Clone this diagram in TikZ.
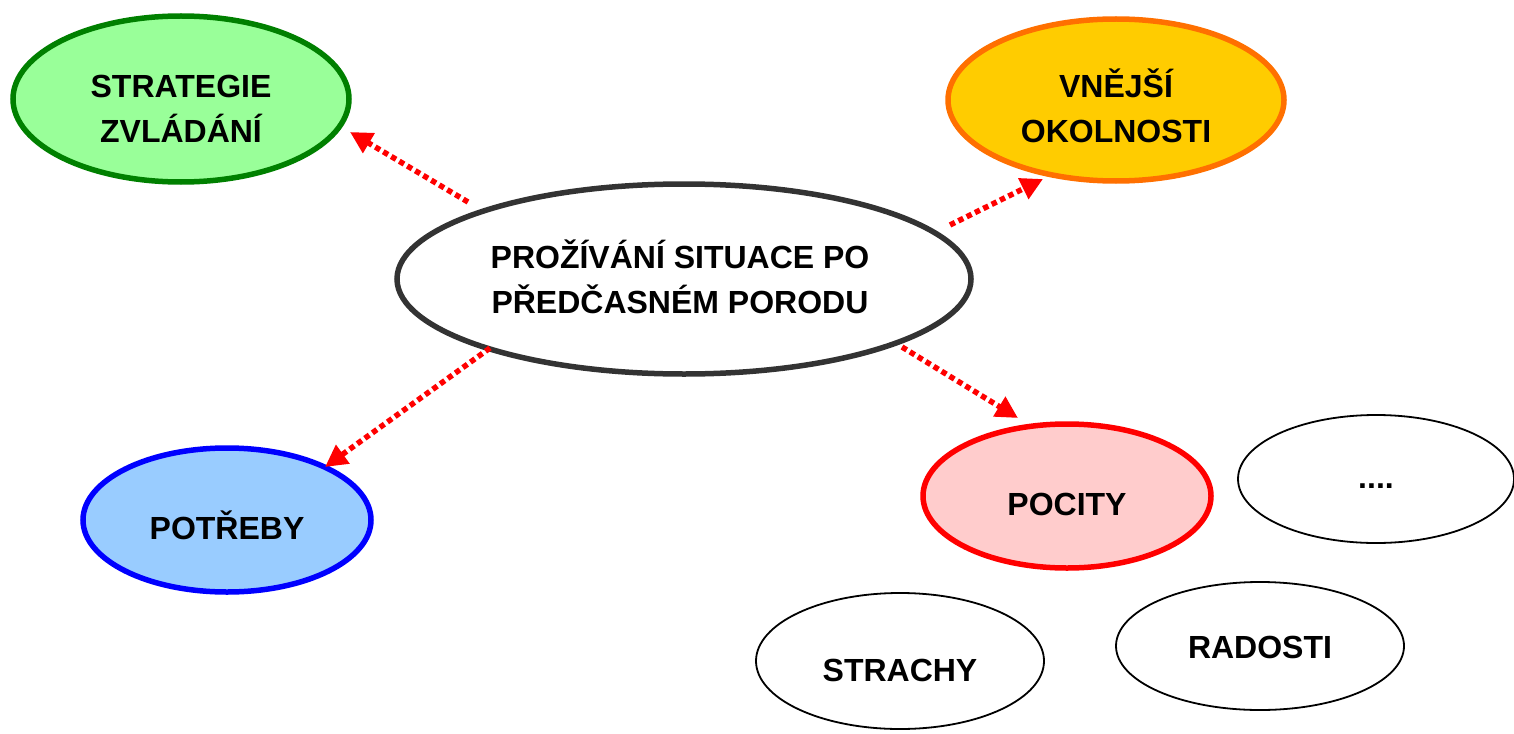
\documentclass[tikz,border=0pt]{standalone}
\usepackage{fontspec}
\setmainfont{Liberation Sans}
\usetikzlibrary{shapes.geometric,arrows.meta}
\definecolor{cgreenf}{HTML}{99FF99}
\definecolor{cgreend}{HTML}{008000}
\definecolor{corangef}{HTML}{FFCC00}
\definecolor{coranged}{HTML}{FF7000}
\definecolor{cbluef}{HTML}{99CCFF}
\definecolor{cblued}{HTML}{0000FF}
\definecolor{cpinkf}{HTML}{FFCCCC}
\definecolor{cpinkd}{HTML}{FF0000}
\definecolor{cdark}{HTML}{333333}
\tikzset{
  ell/.style={ellipse, inner sep=0pt},
  txt/.style={align=center, inner sep=0pt, font=\fontsize{32}{45}\selectfont\bfseries},
  thickell/.style={ell, line width=5.5pt},
  thinell/.style={ell, draw=black, line width=1.8pt, fill=white},
  arr/.style={draw=red, line width=5.5pt, dash pattern=on 5.5pt off 3.8pt,
    -{Triangle[length=22pt,width=22pt]}},
}
\begin{document}
\begin{tikzpicture}[x=1pt,y=-1pt]
\useasboundingbox (0,0) rectangle (1514,733);
\node[thickell, draw=cgreend, fill=cgreenf, minimum width=336pt, minimum height=166pt,
  label={[txt,yshift=-10pt]center:STRATEGIE\\ZVLÁDÁNÍ}] (s) at (181,99) {};
\node[thickell, draw=coranged, fill=corangef, minimum width=336pt, minimum height=162pt,
  label={[txt,yshift=-6pt]center:VNĚJŠÍ\\OKOLNOSTI}] (v) at (1116,100) {};
\node[thickell, draw=cdark, fill=white, minimum width=574pt, minimum height=190pt,
  label={[txt,yshift=2pt,xshift=-4pt]center:PROŽÍVÁNÍ SITUACE PO\\PŘEDČASNÉM PORODU}] (c) at (684,279) {};
\node[thickell, draw=cblued, fill=cbluef, minimum width=288pt, minimum height=144pt,
  label={[txt,yshift=-5pt]center:POTŘEBY}] (p) at (227,520) {};
\node[thickell, draw=cpinkd, fill=cpinkf, minimum width=288pt, minimum height=144pt,
  label={[txt,yshift=-8pt]center:POCITY}] (po) at (1067,496) {};
\node[thinell, minimum width=276pt, minimum height=128pt,
  label={[txt,yshift=-7pt]center:....}] (d) at (1376,479) {};
\node[thinell, minimum width=288pt, minimum height=136pt,
  label={[txt,yshift=-9pt]center:STRACHY}] (st) at (900,661) {};
\node[thinell, minimum width=288pt, minimum height=128pt,
  label={[txt,yshift=-1pt]center:RADOSTI}] (r) at (1260,646) {};
\draw[arr] ([shift={(-216,-77)}]c.center) -- ([shift={(169,33)}]s.center);
\draw[arr] ([shift={(266,-54)}]c.center) -- ([shift={(-73,79)}]v.center);
\draw[arr] ([shift={(-194,69)}]c.center) -- ([shift={(98,-53)}]p.center);
\draw[arr] ([shift={(218,68)}]c.center) -- ([shift={(-49,-78)}]po.center);
\end{tikzpicture}
\end{document}
